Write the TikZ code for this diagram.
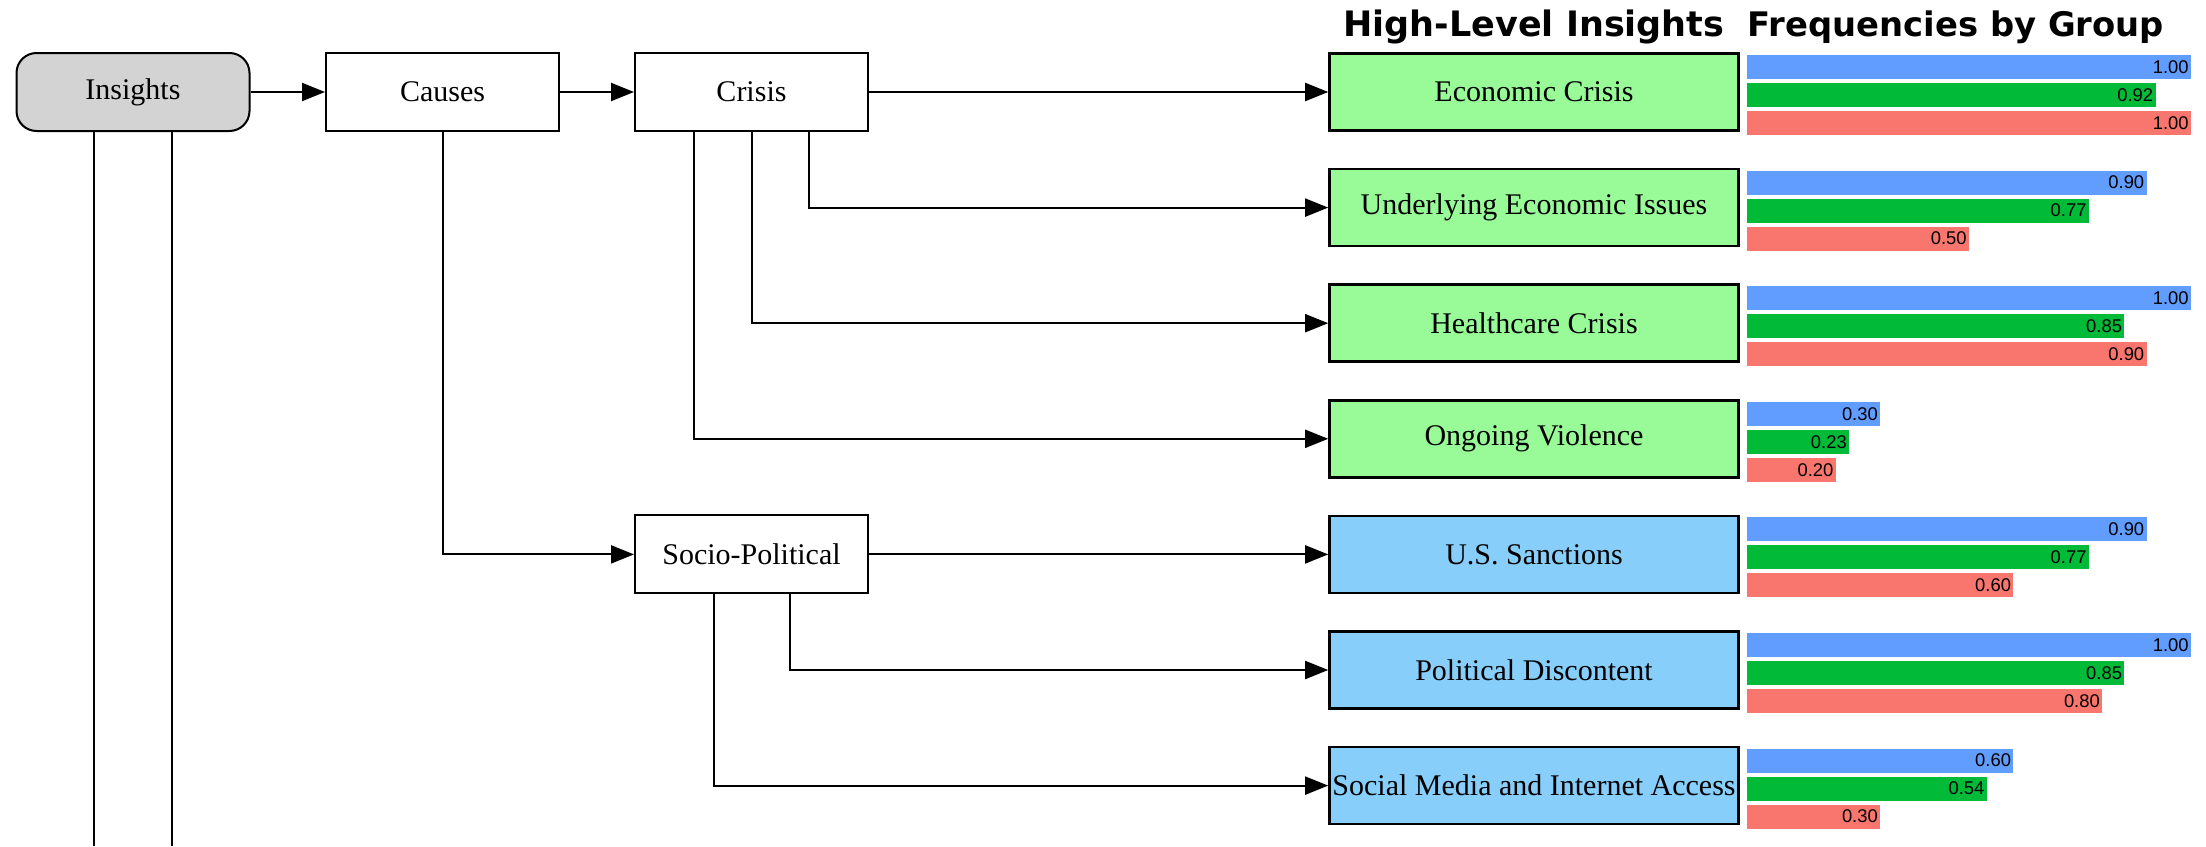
\documentclass[tikz,border=0pt]{standalone}
\usepackage{fontspec}
\setmainfont{Liberation Serif}
\newfontfamily\titlefont{DejaVu Sans}
\newfontfamily\barfont{Liberation Sans}
\usetikzlibrary{arrows.meta}
\definecolor{gbarblue}{HTML}{619CFF}
\definecolor{gbargreen}{HTML}{00BA38}
\definecolor{gbarred}{HTML}{F8766D}
\definecolor{palegreencol}{HTML}{98FB98}
\definecolor{skybluecol}{HTML}{87CEFA}
\definecolor{lightgraycol}{HTML}{D3D3D3}
\tikzset{
  mainbox/.style={draw, line width=1pt, minimum width=116.5pt, minimum height=39pt, inner sep=0pt, font=\fontsize{15}{18}\selectfont},
  rootbox/.style={mainbox, fill=lightgraycol, rounded corners=10pt},
  insightbox/.style={draw, line width=1.3pt, minimum width=204.5pt, minimum height=38.5pt, inner sep=0pt, font=\fontsize{15}{18}\selectfont},
  econbox/.style={insightbox, fill=palegreencol},
  polbox/.style={insightbox, fill=skybluecol},
  link/.style={line width=1pt, -{Triangle[length=11.5pt,width=9pt]}},
  plainlink/.style={line width=1pt},
  barlabel/.style={anchor=east, inner sep=1pt, font=\barfont\fontsize{9.2}{11}\selectfont},
  heading/.style={anchor=base, inner sep=0pt, font=\titlefont\bfseries\fontsize{17.5}{21}\selectfont},
  headingb/.style={heading, font=\titlefont\bfseries\fontsize{16.9}{21}\selectfont}
}
% #1 name prefix, #2 top y (px), #3 #4 #5 values
\newcommand\freqbars[5]{%
  \fill[gbarblue] (1747,{#2+1.5}) rectangle ({1747+444*#3},{#2+25.5});
  \node[barlabel] (#1b) at ({1747+444*#3},{#2+13.5}) {#3};
  \fill[gbargreen] (1747,{#2+29.5}) rectangle ({1747+444*#4},{#2+53.5});
  \node[barlabel] (#1g) at ({1747+444*#4},{#2+41.5}) {#4};
  \fill[gbarred] (1747,{#2+57.5}) rectangle ({1747+444*#5},{#2+81.5});
  \node[barlabel] (#1r) at ({1747+444*#5},{#2+69.5}) {#5};
}
\begin{document}
\begin{tikzpicture}[x=0.5pt, y=-0.5pt]
\useasboundingbox (0,0) rectangle (2206,846);
% headings
\node[heading] (h1) at (1534,36) {High-Level Insights};
\node[headingb] (h2) at (1956,36) {Frequencies by Group};
% left tree
\node[rootbox] (ins) at (133,92) {Insights};
\node[mainbox] (causes) at (442.5,92) {Causes};
\node[mainbox] (crisis) at (751.5,92) {Crisis};
\node[mainbox] (sp) at (751.5,554.4) {Socio-Political};
% insights
\node[econbox] (econ) at (1534,92) {Economic Crisis};
\node[econbox] (under) at (1534,207.6) {Underlying Economic Issues};
\node[econbox] (health) at (1534,323.2) {Healthcare Crisis};
\node[econbox] (viol) at (1534,438.8) {Ongoing Violence};
\node[polbox] (sanc) at (1534,554.4) {U.S. Sanctions};
\node[polbox] (pol) at (1534,670) {Political Discontent};
\node[polbox] (soc) at (1534,785.6) {Social Media and Internet Access};
% bars
\freqbars{econ}{53.5}{1.00}{0.92}{1.00}
\freqbars{under}{169.1}{0.90}{0.77}{0.50}
\freqbars{health}{284.7}{1.00}{0.85}{0.90}
\freqbars{viol}{400.3}{0.30}{0.23}{0.20}
\freqbars{sanc}{515.9}{0.90}{0.77}{0.60}
\freqbars{pol}{631.5}{1.00}{0.85}{0.80}
\freqbars{soc}{747.1}{0.60}{0.54}{0.30}
% connectors
\draw[link] (ins.east) -- (causes.west);
\draw[link] (causes.east) -- (crisis.west);
\draw[link] (crisis.east) -- (econ.west);
\draw[link] ([xshift=28.75pt]crisis.south) |- (under.west);
\draw[link] (crisis.south) |- (health.west);
\draw[link] ([xshift=-28.75pt]crisis.south) |- (viol.west);
\draw[link] (causes.south) |- (sp.west);
\draw[link] (sp.east) -- (sanc.west);
\draw[link] ([xshift=19pt]sp.south) |- (pol.west);
\draw[link] ([xshift=-19pt]sp.south) |- (soc.west);
\coordinate (insb1) at (94,846);
\coordinate (insb2) at (172,846);
\draw[plainlink] (ins.south -| insb1) -- (insb1);
\draw[plainlink] (ins.south -| insb2) -- (insb2);
\end{tikzpicture}
\end{document}
